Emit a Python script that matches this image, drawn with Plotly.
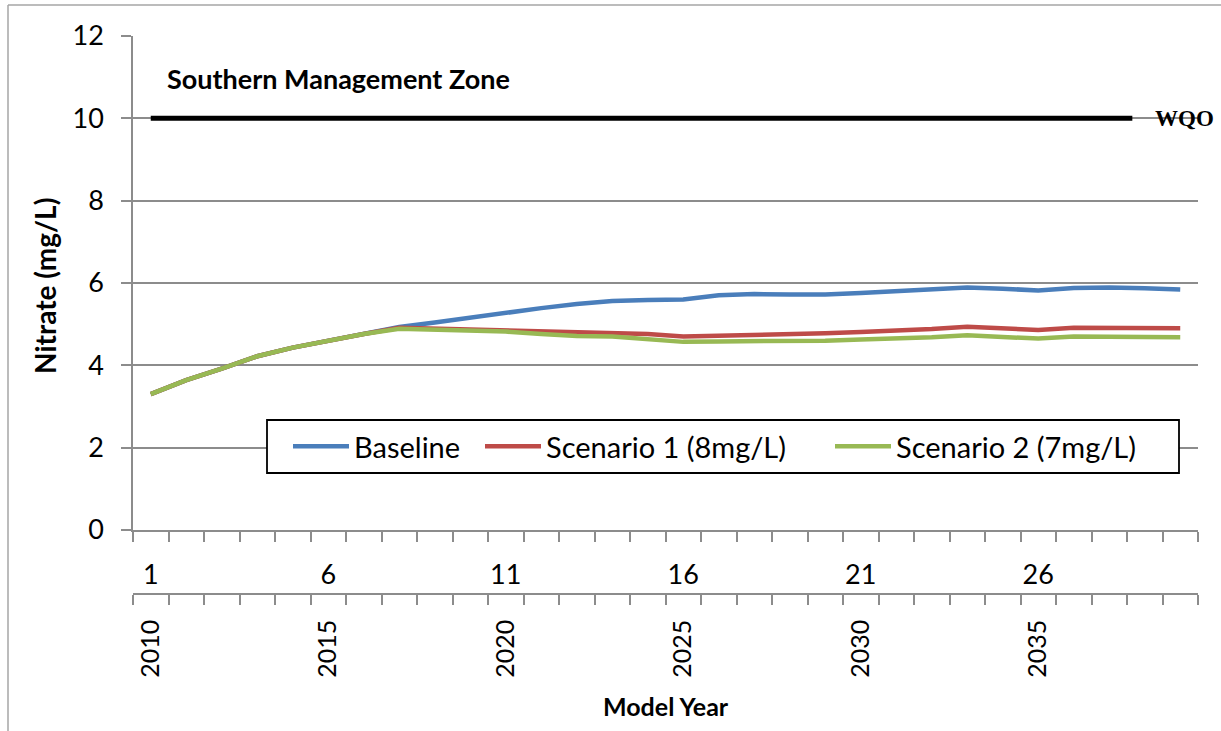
import plotly.graph_objects as go

# Model years 1..30 and their calendar years
model_year = list(range(1, 31))
calendar_year = [2009 + m for m in model_year]

# Nitrate concentration (mg/L), Southern Management Zone
baseline = [3.30, 3.64, 3.92, 4.22, 4.43, 4.60, 4.76, 4.93, 5.04, 5.16,
            5.28, 5.39, 5.49, 5.56, 5.59, 5.60, 5.70, 5.73, 5.72, 5.72,
            5.76, 5.81, 5.86, 5.89, 5.86, 5.82, 5.88, 5.89, 5.87, 5.84]
scenario1 = [3.30, 3.64, 3.92, 4.22, 4.43, 4.60, 4.76, 4.91, 4.89, 4.88,
             4.86, 4.83, 4.80, 4.80, 4.76, 4.70, 4.72, 4.73, 4.74, 4.78,
             4.81, 4.84, 4.88, 4.94, 4.91, 4.86, 4.91, 4.91, 4.90, 4.90]
scenario2 = [3.30, 3.64, 3.92, 4.22, 4.43, 4.60, 4.76, 4.89, 4.87, 4.85,
             4.82, 4.76, 4.71, 4.70, 4.64, 4.57, 4.58, 4.58, 4.58, 4.60,
             4.63, 4.65, 4.68, 4.73, 4.70, 4.65, 4.70, 4.70, 4.69, 4.68]

# Water quality objective line
wqo_value = 10
wqo_span = [1, 28.65]

label_years = [1, 6, 11, 16, 21, 26]
label_model = [str(m) for m in label_years]
label_calendar = [str(2009 + m) for m in label_years]
y_ticks = [0, 2, 4, 6, 8, 10, 12]

FONT = "Lato"
AXIS_GREY = "#8c8c8c"

W = 1221
H = 731
LEFT, RIGHT, TOP = 133, 23, 36
paper_w = W - LEFT - RIGHT
paper_h = H - TOP


def px_x(px):
    return (px - LEFT) / paper_w


def px_y(py):
    return (H - py) / paper_h


fig = go.Figure()

fig.add_trace(go.Scatter(
    x=wqo_span, y=[wqo_value, wqo_value], mode="lines",
    line=dict(color="black", width=5), showlegend=False, hoverinfo="skip"))

# each series gets its own legend entry box so the keys sit where they belong
series = [
    ("Baseline", baseline, "#4A7EBB", "legend", 288),
    ("Scenario 1 (8mg/L)", scenario1, "#BE4B48", "legend2", 480),
    ("Scenario 2 (7mg/L)", scenario2, "#98B954", "legend3", 830),
]
for name, vals, color, leg, _ in series:
    fig.add_trace(go.Scatter(
        x=model_year, y=vals, mode="lines", name=name, legend=leg,
        line=dict(color=color, width=4.5)))

# invisible trace so the calendar-year axis is created
fig.add_trace(go.Scatter(
    x=model_year, y=baseline, xaxis="x2", mode="lines",
    line=dict(width=0), opacity=0, showlegend=False, hoverinfo="skip"))

minor_vals = [k + 0.5 for k in range(0, 31)]

common_x = dict(
    range=[0.5, 30.5], showline=True, linecolor=AXIS_GREY, linewidth=1.5,
    showgrid=False, zeroline=False, tickmode="array", ticks="",
    automargin=False,
    minor=dict(tickmode="array", tickvals=minor_vals, ticks="outside",
               ticklen=10, tickwidth=1.5, tickcolor=AXIS_GREY, showgrid=False),
)

legend_style = dict(orientation="h", xanchor="left", y=px_y(446.5),
                    yanchor="middle", bgcolor="rgba(0,0,0,0)", borderwidth=0,
                    font=dict(family=FONT, size=29, color="black"),
                    itemwidth=56)

fig.update_layout(
    width=W, height=H,
    margin=dict(l=LEFT, r=RIGHT, t=TOP, b=0, autoexpand=False),
    plot_bgcolor="white", paper_bgcolor="white",
    font=dict(family=FONT, color="black"),
    xaxis=dict(common_x, tickvals=label_years, ticktext=label_model,
               ticklabelstandoff=20, anchor="y",
               tickfont=dict(family=FONT, size=27, color="black")),
    xaxis2=dict(common_x, tickvals=label_years, ticktext=label_calendar,
                tickangle=-90, ticklabelstandoff=15, overlaying="x",
                anchor="free", position=px_y(594),
                tickfont=dict(family=FONT, size=25, color="black")),
    yaxis=dict(range=[0, 12], domain=[px_y(530), 1], tickvals=y_ticks,
               ticks="outside", ticklen=10, tickwidth=1.5, tickcolor=AXIS_GREY,
               showline=True, linecolor=AXIS_GREY, linewidth=1.5,
               showgrid=True, gridcolor=AXIS_GREY, gridwidth=1.5,
               zeroline=False, ticklabelstandoff=12, automargin=False,
               tickfont=dict(family=FONT, size=27, color="black")),
    legend=dict(legend_style, x=px_x(series[0][4])),
    legend2=dict(legend_style, x=px_x(series[1][4])),
    legend3=dict(legend_style, x=px_x(series[2][4])),
    showlegend=True,
)

# legend frame
fig.add_shape(type="rect", xref="paper", yref="paper",
              x0=px_x(267), x1=px_x(1179), y0=px_y(473), y1=px_y(420),
              fillcolor="white", line=dict(color="black", width=1.8),
              layer="above")

fig.add_annotation(text="<b>Southern Management Zone</b>", xref="paper",
                   yref="paper", x=px_x(165), y=px_y(78),
                   xanchor="left", yanchor="middle", showarrow=False,
                   font=dict(family=FONT, size=27, color="black"))
fig.add_annotation(text="<b>WQO</b>", xref="paper", yref="y",
                   x=px_x(1153), y=wqo_value, xanchor="left",
                   yanchor="middle", showarrow=False,
                   font=dict(family="Liberation Serif", size=23, color="black"))
fig.add_annotation(text="<b>Nitrate (mg/L)</b>", xref="paper", yref="paper",
                   x=px_x(45), y=px_y(286), textangle=-90,
                   xanchor="center", yanchor="middle", showarrow=False,
                   font=dict(family=FONT, size=28, color="black"))
fig.add_annotation(text="<b>Model Year</b>", xref="paper", yref="paper",
                   x=0.5, y=px_y(706), xanchor="center", yanchor="middle",
                   showarrow=False,
                   font=dict(family=FONT, size=25, color="black"))

# chart-area frame (top and left edges)
fig.add_shape(type="line", xref="paper", yref="paper",
              x0=px_x(8), x1=px_x(1230), y0=px_y(5), y1=px_y(5),
              line=dict(color="#a6a6a6", width=1.5))
fig.add_shape(type="line", xref="paper", yref="paper",
              x0=px_x(8), x1=px_x(8), y0=px_y(5), y1=px_y(740),
              line=dict(color="#a6a6a6", width=1.5))

fig.write_html("out.html")
